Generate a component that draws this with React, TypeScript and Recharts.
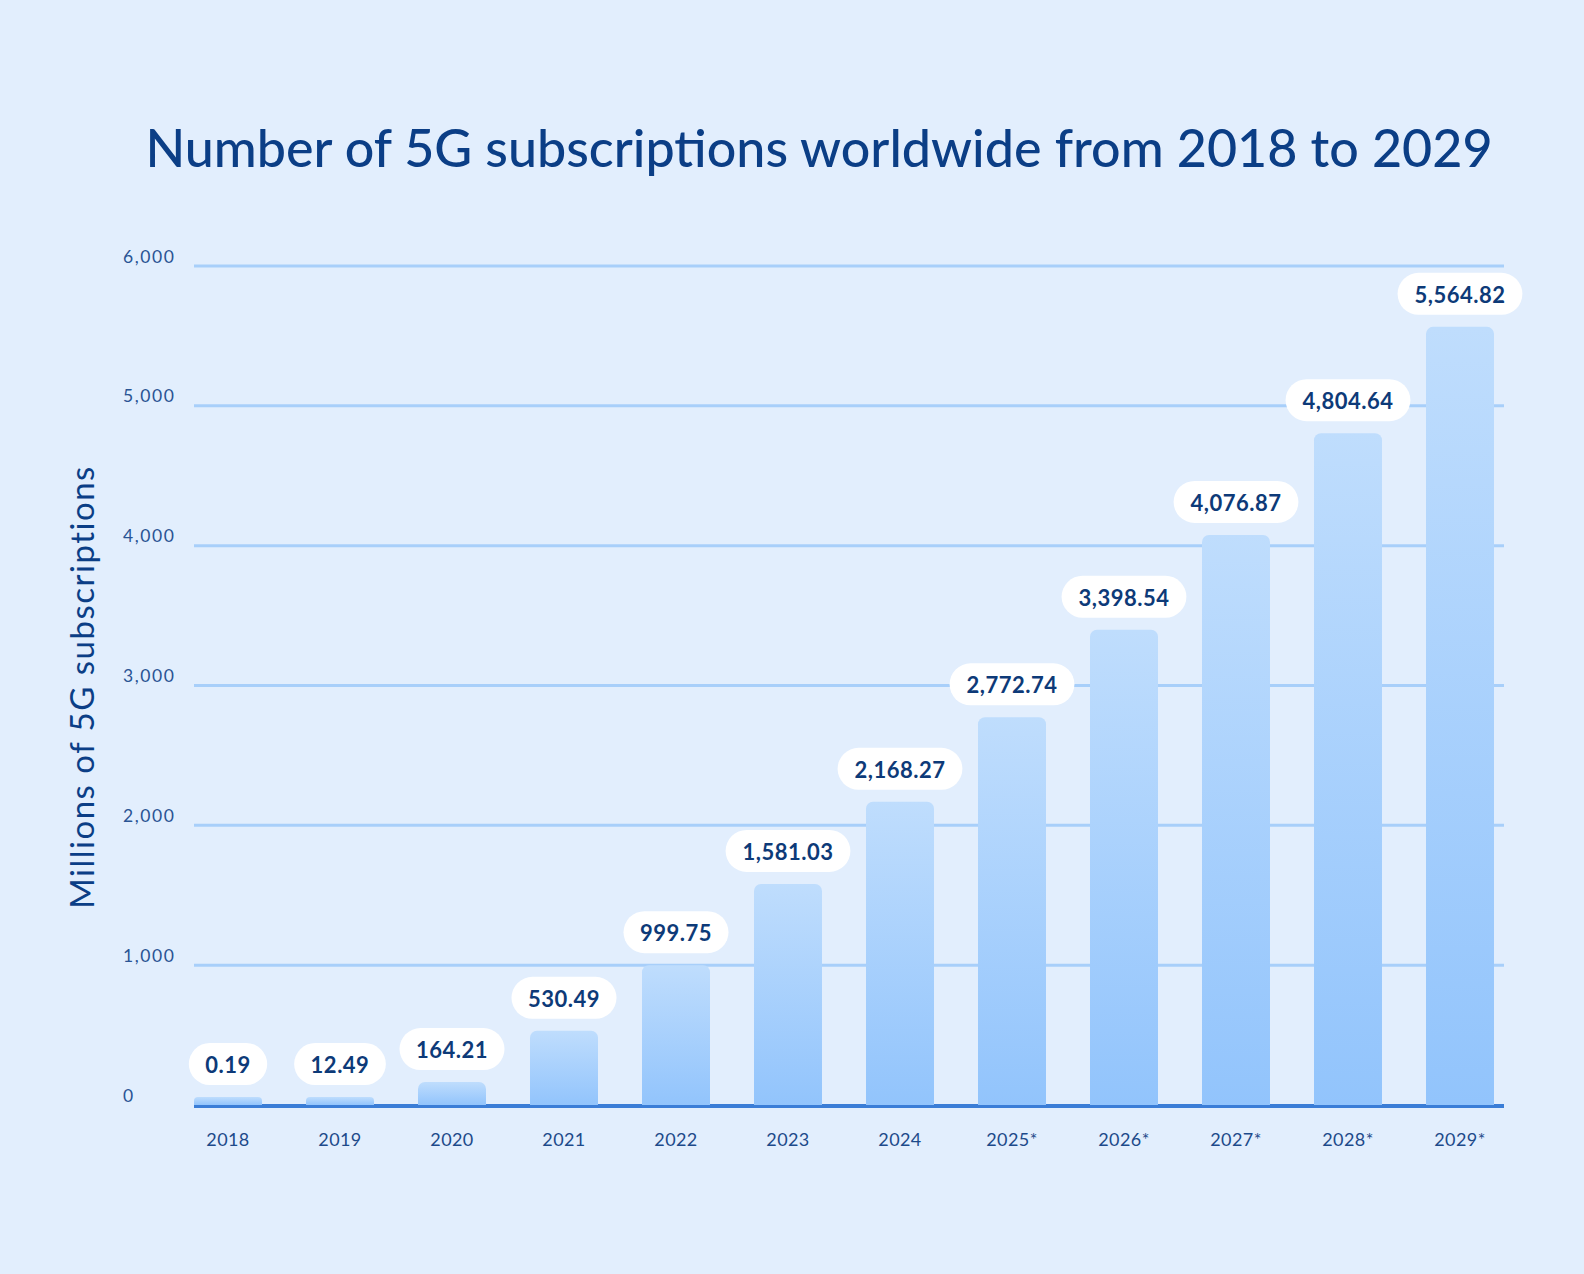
import React from "react";
import { BarChart, Bar, XAxis, YAxis, CartesianGrid, LabelList } from "recharts";

const years = ["2018", "2019", "2020", "2021", "2022", "2023", "2024", "2025*", "2026*", "2027*", "2028*", "2029*"];
const subscriptions = [0.19, 12.49, 164.21, 530.49, 999.75, 1581.03, 2168.27, 2772.74, 3398.54, 4076.87, 4804.64, 5564.82];
const yTicks = [0, 1000, 2000, 3000, 4000, 5000, 6000];

const chartData = years.map((year, i) => ({ year, value: subscriptions[i] }));

const FONT = "Lato, 'Noto Sans', sans-serif";
const TEXT_DARK = "#0B3E86";
const MARGIN = { top: 266, right: 68, bottom: 109, left: 112 };
const ZERO_Y = 1105;

const fmt = (v: number) => v.toLocaleString("en-US");
const fmtLabel = (v: number) =>
  v.toLocaleString("en-US", { minimumFractionDigits: 2, maximumFractionDigits: 2 });

// rough text width for the pill size
const labelWidth = (s: string) =>
  s.split("").reduce((w, c) => w + (c === "," || c === "." ? 6.5 : 13.3), 0);

const GridLine = (props: any) => {
  const { x1, x2, y1 } = props;
  const isZero = Math.abs(y1 - ZERO_Y) < 2;
  if (isZero) {
    return <line x1={x1 + 22} x2={x2 - 12} y1={y1 + 1} y2={y1 + 1} stroke="#3A7DD7" strokeWidth={4} />;
  }
  return <line x1={x1 + 22} x2={x2 - 12} y1={y1} y2={y1} stroke="#A8CFFA" strokeWidth={3} />;
};

const YTick = ({ y, payload }: any) => (
  <text x={123} y={y - 10} dominantBaseline="central" textAnchor="start" fontFamily={FONT}
    fontSize={17.5} fontWeight={400} letterSpacing={1.6} fill="#2A5494">
    {fmt(payload.value)}
  </text>
);

const XTick = ({ x, y, payload }: any) => (
  <text x={x} y={y + 32} dominantBaseline="central" textAnchor="middle" fontFamily={FONT}
    fontSize={18} letterSpacing={0.4} fill="#1D4A8A">
    {payload.value}
  </text>
);

const Pill = ({ x, y, width, value }: any) => {
  const text = fmtLabel(value);
  const w = labelWidth(text) + 32;
  const cx = x + width / 2;
  const bottom = y - 12;
  return (
    <g>
      <rect x={cx - w / 2} y={bottom - 42} width={w} height={42} rx={21} fill="#FFFFFF" />
      <text x={cx} y={bottom - 20.5} dominantBaseline="central" textAnchor="middle" fontFamily={FONT}
        fontSize={22} fontWeight={700} letterSpacing={0.5} fill="#0D3A78">
        {text}
      </text>
    </g>
  );
};

export default function App() {
  return (
    <div style={{ position: "absolute", left: 0, top: 0, width: 1584, height: 1274, background: "#E2EEFD" }}>
      <BarChart width={1584} height={1274} data={chartData} margin={MARGIN}>
        <defs>
          <linearGradient id="barFill" x1="0" y1="0" x2="0" y2="1">
            <stop offset="0%" stopColor="#BFDDFD" />
            <stop offset="100%" stopColor="#92C4FC" />
          </linearGradient>
        </defs>
        <CartesianGrid vertical={false} horizontal={GridLine} />
        <XAxis dataKey="year" height={60} axisLine={false} tickLine={false} tickSize={0} tick={<XTick />} interval={0} />
        <YAxis domain={[0, 6000]} ticks={yTicks} width={60} axisLine={false} tickLine={false} tickSize={0} tick={<YTick />} />
        <Bar dataKey="value" fill="url(#barFill)" barSize={68} radius={[7, 7, 0, 0]} minPointSize={8} isAnimationActive={false}>
          <LabelList dataKey="value" content={<Pill />} />
        </Bar>
      </BarChart>
      <svg width={1584} height={1274} style={{ position: "absolute", left: 0, top: 0, pointerEvents: "none" }}>
        <text x={819} y={167} textAnchor="middle" fontFamily={FONT} fontSize={52} fontWeight={500} fill={TEXT_DARK}>
          Number of 5G subscriptions worldwide from 2018 to 2029
        </text>
        <text x={94} y={687} textAnchor="middle" transform="rotate(-90 94 687)" fontFamily={FONT}
          fontSize={33} letterSpacing={1.5} fill={TEXT_DARK}>
          Millions of 5G subscriptions
        </text>
      </svg>
    </div>
  );
}
